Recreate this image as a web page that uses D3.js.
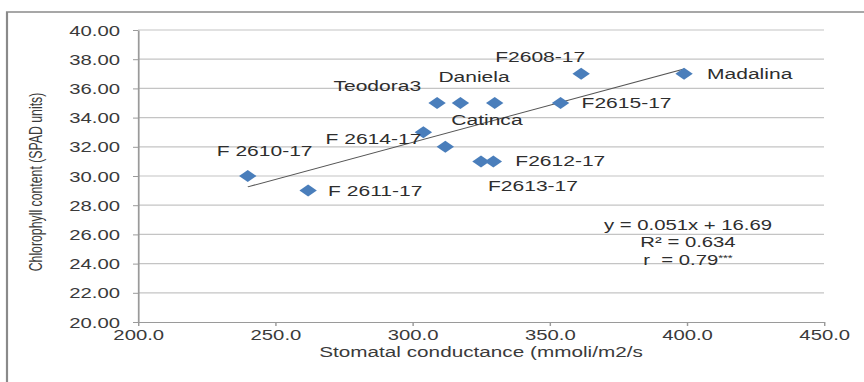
<!DOCTYPE html>
<html>
<head>
<meta charset="utf-8">
<script src="https://cdn.jsdelivr.net/npm/d3@7/dist/d3.min.js"></script>
<style>
  html, body { margin: 0; padding: 0; background: #fff; }
  svg { display: block; }
  text { font-family: "Liberation Sans", Arial, sans-serif; }
</style>
</head>
<body>
<svg id="chart"></svg>
<script>
// data
var genotypes   = ["F 2610-17", "F 2611-17", "F 2614-17", "Catinca", "Teodora3", "Daniela", "", "F2613-17", "F2612-17", "F2615-17", "F2608-17", "Madalina"];
var conductance = [240, 262, 304, 312, 309, 317.5, 330, 325, 329.5, 354, 361.5, 399];
var chlorophyll = [30, 29, 33, 32, 35, 35, 35, 31, 31, 35, 37, 37];
var xTicks = [200, 250, 300, 350, 400, 450];
var yTicks = [20, 22, 24, 26, 28, 30, 32, 34, 36, 38, 40];
var equationLines = ["y = 0.051x + 16.69", "R² = 0.634", "r  = 0.79"];

// the original picture is stretched sideways, so draw in a narrower box and stretch it
var KX = 1.45;
var pxW = 864, pxH = 382;
var W = pxW / KX, H = pxH;

var svg = d3.select("#chart")
  .attr("width", pxW)
  .attr("height", pxH)
  .attr("viewBox", "0 0 " + W + " " + H)
  .attr("preserveAspectRatio", "none");

var x = d3.scaleLinear().domain([200, 450]).range([138 / KX, 824 / KX]);
var y = d3.scaleLinear().domain([20, 40]).range([322, 30]);

// outer frame (only top and left edges show)
svg.append("path")
  .attr("d", "M" + (7 / KX) + "," + H + "V12H" + W)
  .attr("fill", "none")
  .attr("stroke", "#8a8a8a")
  .attr("stroke-width", 1.5);

// gridlines
svg.append("g").selectAll("line")
  .data(yTicks.slice(1))
  .join("line")
  .attr("x1", x(200)).attr("x2", x(450))
  .attr("y1", d => y(d)).attr("y2", d => y(d))
  .attr("stroke", "#c4c4c4")
  .attr("stroke-width", 1.2);

// axes
var yAxis = svg.append("g")
  .attr("transform", "translate(" + x(200) + ",0)")
  .call(d3.axisLeft(y).tickValues(yTicks).tickSize(5 / KX).tickSizeOuter(0).tickFormat(d3.format(".2f")));
var xAxis = svg.append("g")
  .attr("transform", "translate(0," + y(20) + ")")
  .call(d3.axisBottom(x).tickValues(xTicks).tickSize(4).tickSizeOuter(0).tickFormat(d3.format(".1f")));

[yAxis, xAxis].forEach(function(a) {
  a.select(".domain").attr("stroke", "#9a9a9a").attr("stroke-width", 1.2);
  a.selectAll(".tick line").attr("stroke", "#9a9a9a");
  a.selectAll(".tick text")
    .attr("fill", "#3a3a3a")
    .style("font-size", "14px")
    .style("font-family", "'Liberation Sans', Arial, sans-serif");
});
yAxis.selectAll(".tick text").attr("x", -(18 / KX)).attr("dy", "0.36em");
xAxis.selectAll(".tick text").attr("y", 8).attr("dy", "0.71em");

// axis titles
svg.append("text")
  .attr("x", 481 / KX)
  .attr("y", 357)
  .attr("text-anchor", "middle")
  .attr("fill", "#3a3a3a")
  .style("font-size", "14.3px")
  .text("Stomatal conductance (mmoli/m2/s");

svg.append("text")
  .attr("transform", "translate(" + (42 / KX) + ",182) rotate(-90)")
  .attr("text-anchor", "middle")
  .attr("fill", "#3a3a3a")
  .style("font-size", "12.3px")
  .text("Chlorophyll content (SPAD units)");

// linear trend, least squares on the points
var mx = d3.mean(conductance), my = d3.mean(chlorophyll);
var sxy = d3.sum(conductance, (v, i) => (v - mx) * (chlorophyll[i] - my));
var sxx = d3.sum(conductance, v => (v - mx) * (v - mx));
var slope = sxy / sxx, intercept = my - slope * mx;
var xr = d3.extent(conductance);
svg.append("line")
  .attr("x1", x(xr[0])).attr("y1", y(intercept + slope * xr[0]))
  .attr("x2", x(xr[1])).attr("y2", y(intercept + slope * xr[1]))
  .attr("stroke", "#555")
  .attr("stroke-width", 1);

// points
var pts = conductance.map((v, i) => ({name: genotypes[i], x: v, y: chlorophyll[i]}));
svg.append("g").selectAll("path")
  .data(pts)
  .join("path")
  .attr("d", "M0,-6L6,0L0,6L-6,0Z")
  .attr("transform", d => "translate(" + x(d.x) + "," + y(d.y) + ")")
  .attr("fill", "#4a7ebb");

// label offsets in screen pixels: [dx, dy, anchor]
var labelOffsets = {
  "F 2610-17": [-31, -20, "start"],
  "F 2611-17": [20, 5, "start"],
  "F 2614-17": [-2, 12, "end"],
  "Catinca": [6, -22, "start"],
  "Teodora3": [-16, -12, "end"],
  "Daniela": [-22, -21, "start"],
  "F2613-17": [7, 30, "start"],
  "F2612-17": [22, 5, "start"],
  "F2615-17": [21, 5, "start"],
  "F2608-17": [4, -12, "end"],
  "Madalina": [23, 5, "start"]
};
svg.append("g").selectAll("text")
  .data(pts.filter(d => d.name))
  .join("text")
  .attr("x", d => x(d.x) + labelOffsets[d.name][0] / KX)
  .attr("y", d => y(d.y) + labelOffsets[d.name][1])
  .attr("text-anchor", d => labelOffsets[d.name][2])
  .attr("fill", "#2e2e2e")
  .style("font-size", "14.5px")
  .text(d => d.name);

// equation box
var eq = svg.append("g").attr("transform", "translate(" + (688 / KX) + ",0)");
equationLines.forEach(function(s, i) {
  var t = eq.append("text")
    .attr("x", 0)
    .attr("y", 230 + i * 17.5)
    .attr("text-anchor", "middle")
    .attr("fill", "#2e2e2e")
    .style("font-size", "14px")
    .style("white-space", "pre")
    .text(s);
  if (i === 2) {
    t.append("tspan").attr("dy", -4).style("font-size", "8.5px").text("***");
  }
});
</script>
</body>
</html>
